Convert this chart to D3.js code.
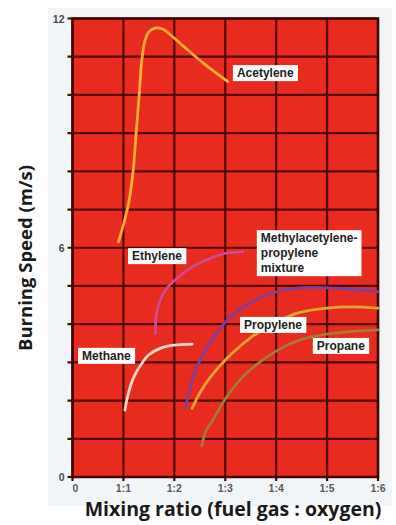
<!DOCTYPE html>
<html>
<head>
<meta charset="utf-8">
<script src="https://cdn.jsdelivr.net/npm/d3@7"></script>
<style>
  body { margin: 0; background: #fff; }
  svg { display: block; }
</style>
</head>
<body>
<div id="chart"></div>
<script>
// burning speed (m/s) vs mixing ratio fuel gas : oxygen (x = oxygen parts per 1 fuel)
const acetylene = [[0.9, 6.15], [1.0, 6.6], [1.1, 7.15], [1.19, 8.0], [1.25, 9.0], [1.31, 10.0], [1.36, 10.9], [1.42, 11.4], [1.5, 11.65], [1.62, 11.75], [1.78, 11.72], [1.9, 11.6], [2.2, 11.25], [2.6, 10.8], [3.05, 10.35]];
const ethylene = [[1.63, 3.75], [1.64, 4.2], [1.7, 4.55], [1.83, 4.9], [2.05, 5.2], [2.35, 5.5], [2.7, 5.72], [3.0, 5.85], [3.35, 5.9]];
const methane = [[1.03, 1.75], [1.1, 2.2], [1.2, 2.6], [1.35, 2.95], [1.5, 3.2], [1.75, 3.38], [2.0, 3.45], [2.35, 3.48]];
const mapp = [[2.22, 1.8], [2.3, 2.3], [2.45, 2.9], [2.65, 3.4], [2.9, 3.9], [3.2, 4.3], [3.62, 4.65], [4.1, 4.88], [4.6, 4.96], [5.2, 4.94], [6.0, 4.85]];
const propylene = [[2.35, 1.8], [2.5, 2.2], [2.7, 2.6], [3.03, 3.1], [3.5, 3.65], [4.0, 4.05], [4.45, 4.3], [5.0, 4.42], [5.5, 4.45], [6.0, 4.42]];
const propane = [[2.54, 0.82], [2.62, 1.2], [2.76, 1.5], [3.03, 2.1], [3.42, 2.72], [4.03, 3.32], [4.5, 3.6], [4.9, 3.72], [5.4, 3.8], [6.0, 3.85]];

const xTicks = [0, 1, 2, 3, 4, 5, 6];
const xTickLabels = ["0", "1:1", "1:2", "1:3", "1:4", "1:5", "1:6"];
const yLabelled = [0, 6, 12];

const series = [
  { name: "Acetylene", data: acetylene, color: "#f6ad38" },
  { name: "Ethylene", data: ethylene, color: "#cf4a93" },
  { name: "Methane", data: methane, color: "#f6d6c6" },
  { name: "Methylacetylene-propylene mixture", data: mapp, color: "#7f3f9c" },
  { name: "Propylene", data: propylene, color: "#e3a232" },
  { name: "Propane", data: propane, color: "#a57a36" }
];

// label boxes: top-left corner in data units, lines of text
const labels = [
  { lines: ["Acetylene"], x: 3.15, y: 10.78 },
  { lines: ["Ethylene"], x: 1.09, y: 5.99 },
  { lines: ["Methylacetylene-", "propylene", "mixture"], x: 3.62, y: 6.46 },
  { lines: ["Propylene"], x: 3.29, y: 4.19 },
  { lines: ["Propane"], x: 4.72, y: 3.64 },
  { lines: ["Methane"], x: 0.11, y: 3.38 }
];

const W = 396, H = 525;
const margin = { top: 18.5, right: 18, bottom: 48, left: 72.5 },
  width = W - margin.left - margin.right,
  height = H - margin.top - margin.bottom;

const root = d3.select("#chart").append("svg")
  .attr("width", W)
  .attr("height", H);

// light panel behind the figure
root.append("rect")
  .attr("x", 48).attr("y", 8)
  .attr("width", 344).attr("height", 498)
  .attr("fill", "#f2f5f7");

const svg = root.append("g")
  .attr("transform", "translate(" + margin.left + "," + margin.top + ")");

const x = d3.scaleLinear().domain([0, 6]).range([0, width]);
const y = d3.scaleLinear().domain([0, 12]).range([height, 0]);

svg.append("rect")
  .attr("width", width)
  .attr("height", height)
  .attr("fill", "#e82b1f");

// grid
svg.append("g")
  .selectAll("line")
  .data(d3.range(0, 13))
  .join("line")
  .attr("x1", -5).attr("x2", width)
  .attr("y1", d => y(d)).attr("y2", d => y(d))
  .attr("stroke", "#520904")
  .attr("stroke-width", 2.2);

svg.append("g")
  .selectAll("line")
  .data(xTicks)
  .join("line")
  .attr("x1", d => x(d)).attr("x2", d => x(d))
  .attr("y1", 0).attr("y2", height + 4)
  .attr("stroke", "#520904")
  .attr("stroke-width", 2.2);

svg.append("rect")
  .attr("width", width)
  .attr("height", height)
  .attr("fill", "none")
  .attr("stroke", "#3e0603")
  .attr("stroke-width", 2.5);

// tick labels
svg.append("g")
  .selectAll("text")
  .data(xTicks)
  .join("text")
  .attr("x", (d, i) => x(d) + (i === 0 ? 3 : 0))
  .attr("y", height + 15)
  .attr("text-anchor", "middle")
  .attr("font-family", "Liberation Sans, Arial, sans-serif")
  .attr("font-weight", "bold")
  .attr("font-size", 10.5)
  .attr("fill", "#5a5a5a")
  .text((d, i) => xTickLabels[i]);

svg.append("g")
  .selectAll("text")
  .data(yLabelled)
  .join("text")
  .attr("x", -8)
  .attr("y", d => y(d) + 4)
  .attr("text-anchor", "end")
  .attr("font-family", "Liberation Sans, Arial, sans-serif")
  .attr("font-weight", "bold")
  .attr("font-size", 10.5)
  .attr("fill", "#4a4a4a")
  .text(d => d);

// curves
const line = d3.line()
  .x(d => x(d[0]))
  .y(d => y(d[1]))
  .curve(d3.curveCatmullRom.alpha(0.5));

svg.append("g")
  .selectAll("path")
  .data(series)
  .join("path")
  .attr("d", d => line(d.data))
  .attr("fill", "none")
  .attr("stroke", d => d.color)
  .attr("stroke-width", 2.8)
  .attr("stroke-linecap", "round");

// label boxes
const lab = svg.append("g")
  .selectAll("g")
  .data(labels)
  .join("g")
  .attr("transform", d => "translate(" + x(d.x) + "," + y(d.y) + ")");

lab.each(function(d) {
  const g = d3.select(this);
  const t = g.append("text")
    .attr("font-family", "Liberation Sans, Arial, sans-serif")
    .attr("font-weight", "bold")
    .attr("font-size", 12)
    .attr("fill", "#222");
  d.lines.forEach((s, i) => {
    t.append("tspan").attr("x", 4).attr("y", 12 + i * 15).text(s);
  });
  const bb = t.node().getBBox();
  g.insert("rect", "text")
    .attr("x", 0).attr("y", 0)
    .attr("width", bb.width + 8)
    .attr("height", bb.height + 2)
    .attr("fill", "#fff");
});

// axis titles
root.append("text")
  .attr("transform", "translate(32,258) rotate(-90)")
  .attr("text-anchor", "middle")
  .attr("font-family", "Open Sans, sans-serif")
  .attr("font-weight", "bold")
  .attr("font-size", 18.5)
  .attr("fill", "#1a1a1a")
  .text("Burning Speed (m/s)");

root.append("text")
  .attr("x", 233)
  .attr("y", 516)
  .attr("text-anchor", "middle")
  .attr("font-family", "Open Sans, sans-serif")
  .attr("font-weight", "bold")
  .attr("font-size", 19.5)
  .attr("fill", "#1a1a1a")
  .text("Mixing ratio (fuel gas : oxygen)");
</script>
</body>
</html>
